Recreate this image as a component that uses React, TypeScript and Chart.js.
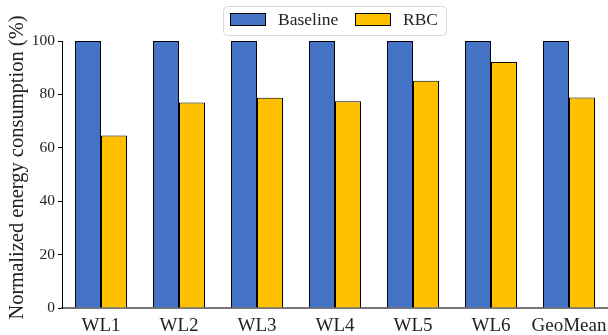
import React, { useEffect, useRef } from "react";
import { Chart, registerables } from "chart.js";

Chart.register(...registerables);

const categories = ["WL1", "WL2", "WL3", "WL4", "WL5", "WL6", "GeoMean"];
const baselineValues = [100, 100, 100, 100, 100, 100, 100];
const rbcValues = [64.6, 77.0, 78.7, 77.4, 85.1, 92.1, 78.8];
const yTicks = [0, 20, 40, 60, 80, 100];
const seriesNames = ["Baseline", "RBC"];
const seriesColors = ["#4472C4", "#FFC000"];
const yTitle = "Normalized energy consumption (%)";

const FONT = "'Liberation Serif', 'Times New Roman', serif";

const legendPlugin = {
  id: "customLegend",
  afterDraw(chart: any) {
    const ctx = chart.ctx;
    ctx.save();
    // y-axis title
    ctx.translate(17.5, 167.5);
    ctx.rotate(-Math.PI / 2);
    ctx.font = "20.5px " + FONT;
    ctx.fillStyle = "#222";
    ctx.textAlign = "center";
    ctx.textBaseline = "middle";
    ctx.fillText(yTitle, 0, 0);
    ctx.restore();

    ctx.save();
    // legend frame
    const fx = 223.5, fy = 6.5, fw = 223, fh = 29, r = 4;
    ctx.beginPath();
    ctx.moveTo(fx + r, fy);
    ctx.lineTo(fx + fw - r, fy);
    ctx.quadraticCurveTo(fx + fw, fy, fx + fw, fy + r);
    ctx.lineTo(fx + fw, fy + fh - r);
    ctx.quadraticCurveTo(fx + fw, fy + fh, fx + fw - r, fy + fh);
    ctx.lineTo(fx + r, fy + fh);
    ctx.quadraticCurveTo(fx, fy + fh, fx, fy + fh - r);
    ctx.lineTo(fx, fy + r);
    ctx.quadraticCurveTo(fx, fy, fx + r, fy);
    ctx.closePath();
    ctx.fillStyle = "rgba(255,255,255,0.9)";
    ctx.fill();
    ctx.strokeStyle = "#d9d9d9";
    ctx.lineWidth = 1;
    ctx.stroke();

    const items = [
      { box: 230, text: 278 },
      { box: 355, text: 403 },
    ];
    ctx.font = "17.5px " + FONT;
    ctx.textBaseline = "middle";
    ctx.textAlign = "left";
    chart.data.datasets.forEach((ds: any, i: number) => {
      const it = items[i];
      ctx.fillStyle = ds.backgroundColor;
      ctx.fillRect(it.box + 0.5, 13.5, 35, 12);
      ctx.strokeStyle = "#000";
      ctx.lineWidth = 1;
      ctx.strokeRect(it.box + 0.5, 13.5, 35, 12);
      ctx.fillStyle = "#222";
      ctx.fillText(ds.label, it.text, 20);
    });
    ctx.restore();
  },
};

export default function App() {
  const ref = useRef<HTMLCanvasElement>(null);
  useEffect(() => {
    if (!ref.current) return;
    const chart = new Chart(ref.current, {
      type: "bar",
      data: {
        labels: categories,
        datasets: [
          {
            label: seriesNames[0],
            data: baselineValues,
            backgroundColor: seriesColors[0],
            borderColor: "#000",
            borderWidth: 1,
            categoryPercentage: 0.667,
            barPercentage: 1,
          },
          {
            label: seriesNames[1],
            data: rbcValues,
            backgroundColor: seriesColors[1],
            borderColor: "#000",
            borderWidth: 1,
            categoryPercentage: 0.667,
            barPercentage: 1,
          },
        ],
      },
      options: {
        responsive: false,
        animation: false,
        devicePixelRatio: 1,
        layout: { padding: { top: 41, right: 0, left: 0, bottom: 0 } },
        plugins: {
          legend: { display: false },
          tooltip: { enabled: false },
          title: { display: false },
        },
        scales: {
          x: {
            offset: true,
            grid: { display: false, drawTicks: false },
            border: { display: true, color: "#777", width: 2 },
            ticks: {
              color: "#222",
              font: { family: FONT, size: 19 },
              padding: 7,
              maxRotation: 0,
            },
            afterFit(scale: any) {
              scale.height = 27;
              scale.paddingLeft = 0;
              scale.paddingRight = 0;
            },
          },
          y: {
            min: 0,
            max: 100,
            afterBuildTicks(scale: any) {
              scale.ticks = yTicks.map((v) => ({ value: v }));
            },
            grid: {
              drawOnChartArea: false,
              drawTicks: true,
              tickLength: 4,
              color: "#000",
            },
            border: { display: true, color: "#000", width: 1 },
            ticks: {
              color: "#222",
              font: { family: FONT, size: 15.5 },
              padding: 3,
            },
            afterFit(scale: any) {
              scale.width = 62;
            },
          },
        },
      },
      plugins: [legendPlugin],
    });
    return () => chart.destroy();
  }, []);
  return (
    <div style={{ position: "absolute", left: 0, top: 0, width: 608, height: 335, background: "#fff" }}>
      <canvas ref={ref} width={608} height={335} />
    </div>
  );
}
